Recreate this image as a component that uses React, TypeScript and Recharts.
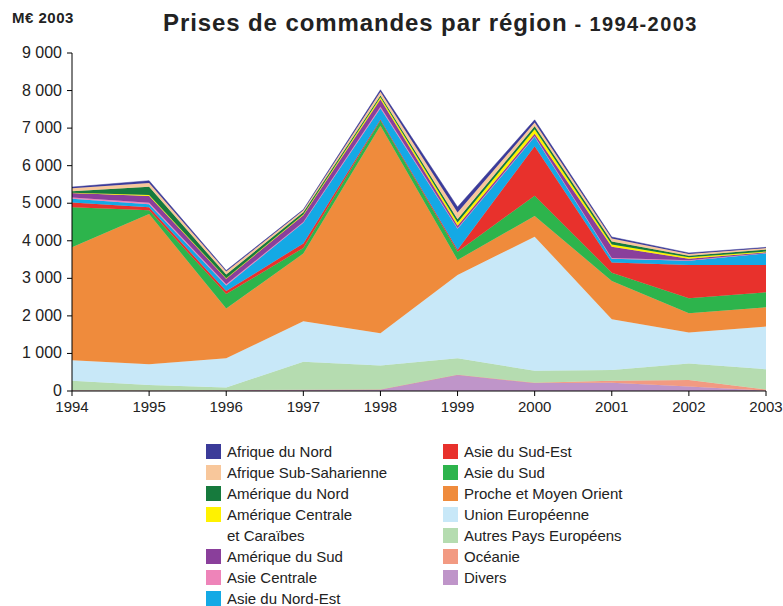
import React from 'react';
import { AreaChart, Area, XAxis, YAxis } from 'recharts';

const years = ['1994', '1995', '1996', '1997', '1998', '1999', '2000', '2001', '2002', '2003'];
const yTicks = [0, 1000, 2000, 3000, 4000, 5000, 6000, 7000, 8000, 9000];

const divers = [20, 10, 20, 30, 40, 430, 210, 220, 120, 10];
const oceanie = [0, 0, 0, 0, 0, 0, 10, 50, 170, 30];
const autresEurope = [250, 150, 70, 750, 640, 440, 320, 290, 445, 540];
const unionEuropeenne = [550, 550, 780, 1080, 860, 2220, 3570, 1350, 820, 1135];
const procheMoyenOrient = [3010, 4000, 1330, 1800, 5520, 400, 550, 1020, 515, 515];
const asieSud = [1060, 100, 380, 150, 140, 220, 540, 220, 400, 400];
const asieSudEst = [130, 80, 80, 120, 30, 50, 1320, 270, 885, 725];
const asieNordEst = [100, 80, 150, 550, 300, 560, 250, 100, 110, 310];
const asieCentrale = [30, 40, 30, 20, 40, 20, 20, 20, 15, 10];
const ameriqueSud = [120, 180, 150, 180, 200, 60, 60, 300, 40, 20];
const ameriqueCentrale = [10, 30, 10, 20, 50, 90, 120, 60, 40, 20];
const ameriqueNord = [40, 220, 100, 60, 50, 80, 80, 80, 40, 50];
const afriqueSubSaharienne = [80, 100, 80, 50, 100, 180, 100, 80, 50, 40];
const afriqueNord = [30, 60, 30, 20, 50, 150, 70, 40, 25, 20];

// bottom to top stacking order
const series = [
  { key: 'divers', name: 'Divers', color: '#bf95c9', values: divers },
  { key: 'oceanie', name: 'Océanie', color: '#f29a82', values: oceanie },
  { key: 'autresEurope', name: 'Autres Pays Européens', color: '#b5dcb0', values: autresEurope },
  { key: 'ue', name: 'Union Européenne', color: '#c8e8f8', values: unionEuropeenne },
  { key: 'pmo', name: 'Proche et Moyen Orient', color: '#ef8b3c', values: procheMoyenOrient },
  { key: 'asieSud', name: 'Asie du Sud', color: '#2db44c', values: asieSud },
  { key: 'asieSudEst', name: 'Asie du Sud-Est', color: '#e8312c', values: asieSudEst },
  { key: 'asieNordEst', name: 'Asie du Nord-Est', color: '#14a9e5', values: asieNordEst },
  { key: 'asieCentrale', name: 'Asie Centrale', color: '#ee84b9', values: asieCentrale },
  { key: 'ameriqueSud', name: 'Amérique du Sud', color: '#8a3f9b', values: ameriqueSud },
  { key: 'ameriqueCentrale', name: 'Amérique Centrale\net Caraïbes', color: '#fff200', values: ameriqueCentrale },
  { key: 'ameriqueNord', name: 'Amérique du Nord', color: '#167a3d', values: ameriqueNord },
  { key: 'afriqueSubSah', name: 'Afrique Sub-Saharienne', color: '#f8c79b', values: afriqueSubSaharienne },
  { key: 'afriqueNord', name: 'Afrique du Nord', color: '#3b3b99', values: afriqueNord },
];

const data = years.map((y, i) => {
  const row: Record<string, any> = { year: y };
  series.forEach((s) => {
    row[s.key] = s.values[i];
  });
  return row;
});

const leftLegend = ['afriqueNord', 'afriqueSubSah', 'ameriqueNord', 'ameriqueCentrale', 'ameriqueSud', 'asieCentrale', 'asieNordEst'];
const rightLegend = ['asieSudEst', 'asieSud', 'pmo', 'ue', 'autresEurope', 'oceanie', 'divers'];

const FONT = "'Liberation Sans', Arial, Helvetica, sans-serif";

const fmt = (v: number) => (v >= 1000 ? `${Math.floor(v / 1000)} ${String(v % 1000).padStart(3, '0')}` : String(v));

const YTick = (props: any) => {
  const { x, y, payload } = props;
  return (
    <text x={x - 3} y={y} dy={5} textAnchor="end" fontSize={16} fill="#222" fontFamily={FONT}>
      {fmt(payload.value)}
    </text>
  );
};

const XTick = (props: any) => {
  const { x, y, payload } = props;
  return (
    <text x={x} y={y} dy={14} textAnchor="middle" fontSize={15} fill="#222" fontFamily={FONT}>
      {payload.value}
    </text>
  );
};

const LegendColumn = ({ keys, left }: { keys: string[]; left: number }) => {
  let row = 0;
  const items: any[] = [];
  keys.forEach((k) => {
    const s = series.find((x) => x.key === k)!;
    const lines = s.name.split('\n');
    const top = 441 + row * 21;
    items.push(
      <div key={k} style={{ position: 'absolute', left, top, display: 'flex' }}>
        <div style={{ width: 15, height: 15, background: s.color, marginTop: 3, marginRight: 6 }} />
        <div style={{ fontSize: 15, lineHeight: '21px', color: '#222', fontFamily: FONT }}>
          {lines.map((l, i) => (
            <div key={i}>{l}</div>
          ))}
        </div>
      </div>
    );
    row += lines.length;
  });
  return <>{items}</>;
};

export default function App() {
  return (
    <div style={{ position: 'absolute', left: 0, top: 0, width: 783, height: 606, background: '#fff', overflow: 'hidden' }}>
      <div style={{ position: 'absolute', left: 12, top: 9, fontSize: 15, letterSpacing: 0.5, fontWeight: 'bold', fontFamily: FONT, color: '#222' }}>
        M€ 2003
      </div>
      <div style={{ position: 'absolute', left: 163, top: 9, fontFamily: FONT, color: '#222', whiteSpace: 'nowrap' }}>
        <span style={{ fontSize: 24, fontWeight: 'bold', letterSpacing: 0.9 }}>Prises de commandes par région</span>
        <span style={{ fontSize: 20, fontWeight: 'bold', letterSpacing: 1.4 }}> - 1994-2003</span>
      </div>
      <div style={{ position: 'absolute', left: 0, top: 0 }}>
        <AreaChart width={783} height={430} data={data} margin={{ top: 53, right: 17, bottom: 9, left: 0 }}>
          <XAxis
            dataKey="year"
            tick={<XTick />}
            tickLine={{ stroke: '#000' }}
            tickSize={5}
            axisLine={{ stroke: '#000' }}
            height={30}
            interval={0}
          />
          <YAxis
            domain={[0, 9000]}
            ticks={yTicks}
            tick={<YTick />}
            tickLine={{ stroke: '#000' }}
            tickSize={5}
            axisLine={{ stroke: '#000' }}
            width={72}
            interval={0}
          />
          {series.map((s) => (
            <Area
              key={s.key}
              dataKey={s.key}
              stackId="1"
              type="linear"
              fill={s.color}
              fillOpacity={1}
              stroke={s.color}
              strokeWidth={0.5}
              isAnimationActive={false}
            />
          ))}
        </AreaChart>
      </div>
      <LegendColumn keys={leftLegend} left={206} />
      <LegendColumn keys={rightLegend} left={443} />
    </div>
  );
}
